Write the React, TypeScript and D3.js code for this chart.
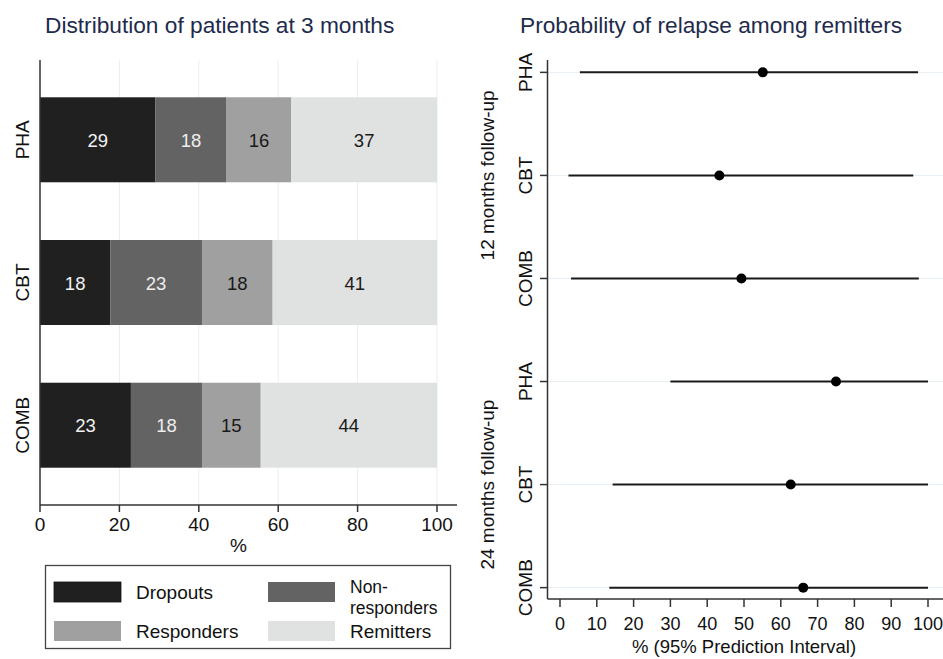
import React from "react";
import * as d3 from "d3";

// ---- Left panel data ----
const groups = ["PHA", "CBT", "COMB"];
const categories = ["Dropouts", "Non-responders", "Responders", "Remitters"];
const dropouts = [29.1, 17.7, 22.9];
const nonResponders = [17.9, 23.1, 17.9];
const responders = [16.3, 17.8, 14.8];
const remitters = [36.7, 41.4, 44.4];
const barLabels = [
  [29, 18, 16, 37],
  [18, 23, 18, 41],
  [23, 18, 15, 44],
];
const leftTicks = [0, 20, 40, 60, 80, 100];

// ---- Right panel data ----
const rowLabels = ["PHA", "CBT", "COMB", "PHA", "CBT", "COMB"];
const followUps = ["12 months follow-up", "24 months follow-up"];
const estimates = [55.1, 43.3, 49.3, 75, 62.7, 66.1];
const lowers = [5.4, 2.3, 3, 30, 14.3, 13.4];
const uppers = [97.3, 96, 97.5, 100, 100, 100];
const rightTicks = [0, 10, 20, 30, 40, 50, 60, 70, 80, 90, 100];

const FONT = "'Liberation Sans', Arial, sans-serif";
const fills = ["#202020", "#636363", "#a0a0a0", "#e0e1e1"];
const labelFills = ["#f2f2f2", "#eeeeee", "#1a1a1a", "#1a1a1a"];
const gridColor = "#e6eff6";
const axisColor = "#333333";
const titleColor = "#1e2b4d";
const FS = 19;

export default function App() {
  // Left scales
  const xL = d3.scaleLinear().domain([0, 100]).range([40, 437]);
  const yL = d3.scalePoint<string>().domain(groups).range([60, 505]).padding(0.559);
  const barH = 85;
  const series = [dropouts, nonResponders, responders, remitters];

  // Right scales
  const xR = d3.scaleLinear().domain([0, 100]).range([560, 928]);
  const rowIdx = rowLabels.map((_, i) => String(i));
  const yR = d3.scalePoint<string>().domain(rowIdx).range([60, 600]).padding(0.12);

  const legendItems = [
    { x: 54, y: 582, label: ["Dropouts"], c: 0 },
    { x: 268, y: 582, label: ["Non-", "responders"], c: 1 },
    { x: 54, y: 621, label: ["Responders"], c: 2 },
    { x: 268, y: 621, label: ["Remitters"], c: 3 },
  ];

  return (
    <svg
      width={943}
      height={659}
      style={{ position: "absolute", left: 0, top: 0, background: "#fff" }}
      fontFamily={FONT}
    >
      <rect x={0} y={0} width={943} height={659} fill="#fff" />
      {/* Titles */}
      <text x={45} y={33} fontSize={22.7} fill={titleColor}>
        Distribution of patients at 3 months
      </text>
      <text x={520} y={33} fontSize={22.7} fill={titleColor}>
        Probability of relapse among remitters
      </text>

      {/* ---------- Left panel ---------- */}
      {leftTicks.slice(1).map((t) => (
        <line key={"g" + t} x1={xL(t)} x2={xL(t)} y1={60} y2={505} stroke={gridColor} strokeWidth={1} />
      ))}
      {groups.map((g, gi) => {
        let cum = 0;
        const cy = yL(g)!;
        return (
          <g key={g}>
            {series.map((s, si) => {
              const x0 = xL(cum);
              cum += s[gi];
              const x1 = xL(cum);
              return (
                <g key={si}>
                  <rect x={x0} y={cy - barH / 2} width={x1 - x0} height={barH} fill={fills[si]} />
                  <text
                    x={(x0 + x1) / 2}
                    y={cy + 7}
                    textAnchor="middle"
                    fontSize={18.5}
                    fill={labelFills[si]}
                  >
                    {barLabels[gi][si]}
                  </text>
                </g>
              );
            })}
            <text
              transform={`translate(29,${cy}) rotate(-90)`}
              textAnchor="middle"
              fontSize={FS}
              fill="#111"
            >
              {g}
            </text>
          </g>
        );
      })}
      <line x1={40} x2={40} y1={60} y2={505} stroke={axisColor} strokeWidth={1.5} />
      <line x1={40} x2={457} y1={505} y2={505} stroke={axisColor} strokeWidth={1.5} />
      {leftTicks.map((t) => (
        <g key={"t" + t}>
          <line x1={xL(t)} x2={xL(t)} y1={505} y2={512} stroke={axisColor} strokeWidth={1.5} />
          <text x={xL(t)} y={531} textAnchor="middle" fontSize={FS} fill="#111">
            {t}
          </text>
        </g>
      ))}
      <text x={xL(50)} y={552} textAnchor="middle" fontSize={FS} fill="#111">
        %
      </text>

      {/* Legend */}
      <rect x={45.5} y={565.5} width={405} height={83} fill="#fff" stroke="#444" strokeWidth={1.3} />
      {legendItems.map((it, i) => (
        <g key={i}>
          <rect x={it.x} y={it.y} width={67} height={20} fill={fills[it.c]} stroke={i === 0 ? "#111" : "none"} strokeWidth={0.8} />
          {it.label.length === 1 ? (
            <text x={it.x + 82} y={it.y + 17} fontSize={FS} fill="#111">
              {it.label[0]}
            </text>
          ) : (
            <>
              <text x={it.x + 82} y={it.y + 11} fontSize={17.5} fill="#111">
                {it.label[0]}
              </text>
              <text x={it.x + 82} y={it.y + 31.5} fontSize={17.5} fill="#111">
                {it.label[1]}
              </text>
            </>
          )}
        </g>
      ))}

      {/* ---------- Right panel ---------- */}
      {rowIdx.map((r) => (
        <line key={"rg" + r} x1={548} x2={943} y1={yR(r)!} y2={yR(r)!} stroke={gridColor} strokeWidth={1} />
      ))}
      <line x1={547.5} x2={547.5} y1={60} y2={599} stroke={axisColor} strokeWidth={1.5} />
      <line x1={547.5} x2={943} y1={599} y2={599} stroke={axisColor} strokeWidth={1.5} />
      {rightTicks.map((t) => (
        <g key={"rt" + t}>
          <line x1={xR(t)} x2={xR(t)} y1={599} y2={607} stroke={axisColor} strokeWidth={1.5} />
          <text x={xR(t)} y={630} textAnchor="middle" fontSize={18} fill="#111">
            {t}
          </text>
        </g>
      ))}
      <text x={xR(50)} y={653} textAnchor="middle" fontSize={18.5} fill="#111">
        % (95% Prediction Interval)
      </text>
      {rowIdx.map((r, i) => {
        const cy = yR(r)!;
        return (
          <g key={"row" + r}>
            <line x1={540} x2={548} y1={cy} y2={cy} stroke={axisColor} strokeWidth={1.5} />
            <text
              transform={`translate(532,${cy}) rotate(-90)`}
              textAnchor="middle"
              fontSize={FS}
              fill="#111"
            >
              {rowLabels[i]}
            </text>
            <line x1={xR(lowers[i])} x2={xR(uppers[i])} y1={cy} y2={cy} stroke="#1a1a1a" strokeWidth={2} />
            <circle cx={xR(estimates[i])} cy={cy} r={5} fill="#000" />
          </g>
        );
      })}
      {followUps.map((f, k) => {
        const yc = (yR(String(k * 3))! + yR(String(k * 3 + 2))!) / 2;
        return (
          <text
            key={f}
            transform={`translate(494,${yc}) rotate(-90)`}
            textAnchor="middle"
            fontSize={FS}
            fill="#111"
          >
            {f}
          </text>
        );
      })}
    </svg>
  );
}
